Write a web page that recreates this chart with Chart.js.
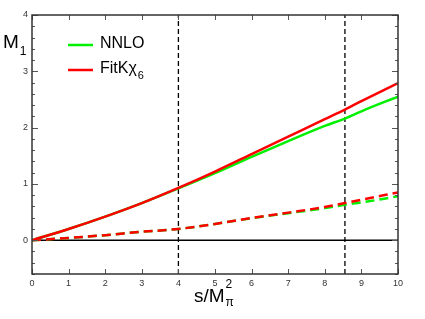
<!DOCTYPE html>
<html>
<head>
<meta charset="utf-8">
<script src="https://cdn.jsdelivr.net/npm/chart.js@4/dist/chart.umd.min.js"></script>
<style>
html,body{margin:0;padding:0;background:#fff;}
#wrap{width:425px;height:319px;position:relative;}
</style>
</head>
<body>
<div id="wrap"><canvas id="c" width="425" height="319"></canvas></div>
<script>
// ---- data ----
const sValues      = [0, 1, 2, 3, 4, 5, 6, 7, 8, 8.55, 9, 10];
const fitSolid     = [0, 0.20, 0.42, 0.66, 0.93, 1.22, 1.53, 1.84, 2.15, 2.32, 2.47, 2.79];
const nnloSolid    = [0, 0.20, 0.42, 0.66, 0.92, 1.19, 1.48, 1.76, 2.03, 2.16, 2.29, 2.55];
const fitDashed    = [0, 0.04, 0.09, 0.15, 0.20, 0.29, 0.395, 0.49, 0.59, 0.66, 0.72, 0.85];
const nnloDashed   = [0, 0.04, 0.09, 0.15, 0.20, 0.29, 0.39, 0.48, 0.57, 0.63, 0.67, 0.78];
const thresholds   = [4, 8.55];
const xTicks       = [0,1,2,3,4,5,6,7,8,9,10];
const yMajorTicks  = [0,1,2,3,4];
const xRange       = [0, 10];
const yRange       = [-0.6, 4];
const legendLabels = ['NNLO', 'FitKχ', '6'];

const RED = 'rgb(255,0,0)';
const GREEN = 'rgb(0,240,0)';

const pts = (ys) => sValues.map((x, i) => ({x: x, y: ys[i]}));

const curve = (label, ys, color, dash) => ({
  label, data: pts(ys), borderColor: color, backgroundColor: color,
  borderWidth: 2.5, borderDash: dash, pointRadius: 0, fill: false,
  cubicInterpolationMode: 'monotone', tension: 0.4
});

const vline = (x) => ({
  label: 'v' + x, data: [{x: x, y: yRange[0]}, {x: x, y: yRange[1]}],
  borderColor: '#000', borderWidth: 1.3, borderDash: [5, 3], pointRadius: 0, fill: false
});

const zeroLine = {
  label: 'zero', data: [{x: xRange[0], y: 0}, {x: xRange[1], y: 0}],
  borderColor: '#000', borderWidth: 1.4, pointRadius: 0, fill: false
};

const frame = {
  id: 'frame',
  afterDraw(chart) {
    const ctx = chart.ctx, a = chart.chartArea;
    const xs = chart.scales.x, ys = chart.scales.y;
    ctx.save();
    // ticks
    ctx.strokeStyle = '#555';
    ctx.lineWidth = 1;
    ctx.beginPath();
    xTicks.forEach(v => {
      const px = Math.round(xs.getPixelForValue(v)) + 0.5;
      ctx.moveTo(px, a.bottom); ctx.lineTo(px, a.bottom - 5);
      ctx.moveTo(px, a.top); ctx.lineTo(px, a.top + 5);
    });
    for (let k = -3; k <= 20; k++) {
      const v = k * 0.2;
      const major = yMajorTicks.some(m => Math.abs(m - v) < 1e-6);
      const len = major ? 6 : 3;
      const py = Math.round(ys.getPixelForValue(v)) + 0.5;
      ctx.moveTo(a.left, py); ctx.lineTo(a.left + len, py);
      ctx.moveTo(a.right, py); ctx.lineTo(a.right - len, py);
    }
    ctx.stroke();
    // frame
    ctx.strokeStyle = '#333';
    ctx.lineWidth = 1.5;
    ctx.strokeRect(a.left, a.top, a.right - a.left, a.bottom - a.top);

    // legend
    ctx.lineWidth = 2.5;
    ctx.strokeStyle = GREEN;
    ctx.beginPath(); ctx.moveTo(68, 45); ctx.lineTo(93, 45); ctx.stroke();
    ctx.strokeStyle = RED;
    ctx.beginPath(); ctx.moveTo(68, 70); ctx.lineTo(93, 70); ctx.stroke();
    ctx.fillStyle = '#000';
    ctx.textBaseline = 'alphabetic';
    ctx.textAlign = 'left';
    ctx.font = '16px "Liberation Sans", Arial, sans-serif';
    ctx.fillText(legendLabels[0], 100, 48);
    ctx.fillText(legendLabels[1], 100, 73);
    const w = ctx.measureText(legendLabels[1]).width;
    ctx.font = '11px "Liberation Sans", Arial, sans-serif';
    ctx.fillText(legendLabels[2], 100 + w + 1, 79);

    // y title M_1
    ctx.font = '19px "Liberation Sans", Arial, sans-serif';
    ctx.fillText('M', 3, 48);
    const wm = ctx.measureText('M').width;
    ctx.font = '12px "Liberation Sans", Arial, sans-serif';
    ctx.fillText('1', 3 + wm + 1, 55);

    // x title s/M^2_pi
    ctx.font = '19px "Liberation Sans", Arial, sans-serif';
    ctx.fillText('s/M', 194, 302);
    const ws = ctx.measureText('s/M').width;
    ctx.font = '12px "Liberation Sans", Arial, sans-serif';
    ctx.fillText('2', 194 + ws + 1, 288);
    ctx.fillText('π', 194 + ws + 1, 306);
    ctx.restore();
  }
};

new Chart(document.getElementById('c'), {
  type: 'line',
  data: {
    datasets: [
      curve('FitKχ6', fitSolid, RED, []),
      curve('NNLO', nnloSolid, GREEN, []),
      curve('FitKχ6 dashed', fitDashed, RED, [9, 5]),
      curve('NNLO dashed', nnloDashed, GREEN, [9, 5]),
      vline(thresholds[0]),
      vline(thresholds[1]),
      zeroLine
    ]
  },
  options: {
    responsive: false,
    animation: false,
    devicePixelRatio: 1,
    layout: {padding: {top: 15, right: 27, left: 0, bottom: 0}},
    plugins: {legend: {display: false}, tooltip: {enabled: false}},
    scales: {
      x: {
        type: 'linear', min: xRange[0], max: xRange[1],
        grid: {display: false, drawTicks: false},
        border: {display: false},
        afterFit(s) { s.height = 45; },
        afterBuildTicks(s) { s.ticks = xTicks.map(v => ({value: v})); },
        ticks: {
          padding: 4, color: '#333', autoSkip: false, maxRotation: 0,
          font: {family: '"Liberation Sans", Arial, sans-serif', size: 9},
          callback: v => String(v)
        }
      },
      y: {
        type: 'linear', min: yRange[0], max: yRange[1],
        grid: {display: false, drawTicks: false},
        border: {display: false},
        afterFit(s) { s.width = 32; },
        afterBuildTicks(s) { s.ticks = yMajorTicks.map(v => ({value: v})); },
        ticks: {
          padding: 4, color: '#333', autoSkip: false,
          font: {family: '"Liberation Sans", Arial, sans-serif', size: 9},
          callback: v => String(v)
        }
      }
    }
  },
  plugins: [frame]
});
</script>
</body>
</html>
